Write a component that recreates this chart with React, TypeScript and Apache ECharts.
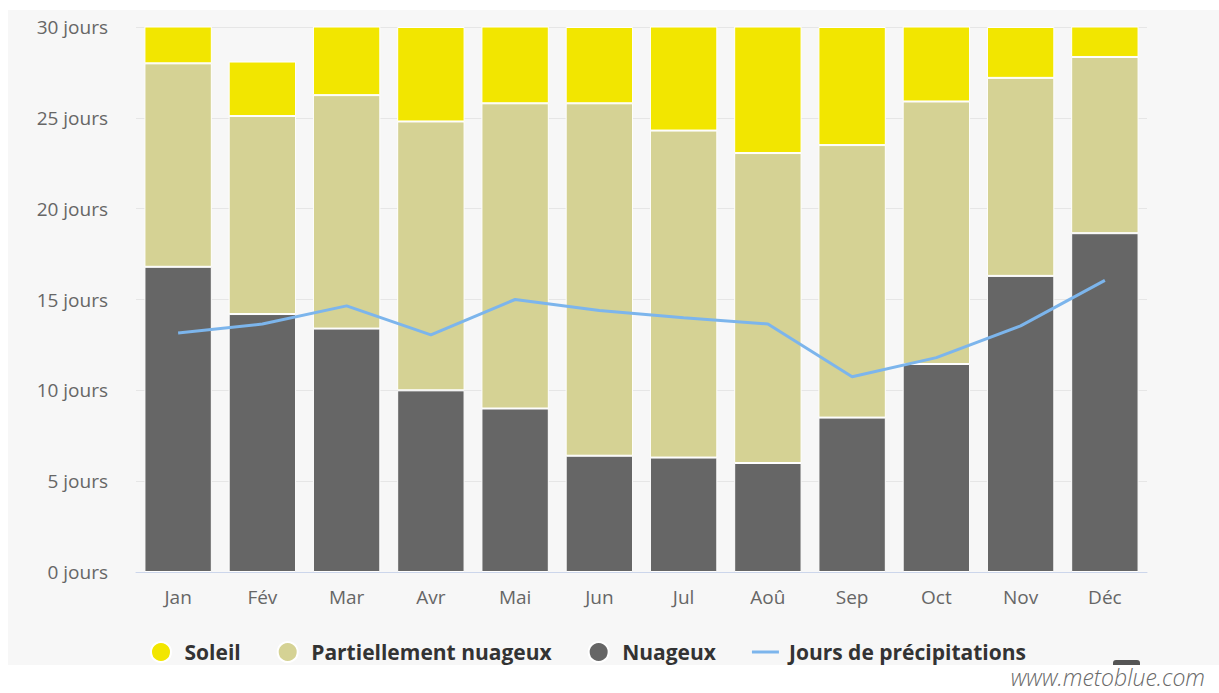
import React, { useEffect, useRef } from "react";
import * as echarts from "echarts";

const months = ["Jan", "Fév", "Mar", "Avr", "Mai", "Jun", "Jul", "Aoû", "Sep", "Oct", "Nov", "Déc"];
const nuageux = [16.8, 14.2, 13.4, 10.0, 9.0, 6.4, 6.3, 6.0, 8.5, 11.45, 16.3, 18.65];
const partiel = [11.2, 10.9, 12.85, 14.8, 16.8, 19.4, 18.0, 17.06, 15.0, 14.45, 10.9, 9.7];
const soleil = [3.0, 3.0, 4.75, 5.2, 5.2, 4.2, 6.7, 7.94, 6.5, 5.1, 2.8, 2.65];
const precip = [13.15, 13.65, 14.65, 13.05, 15.0, 14.4, 14.0, 13.65, 10.75, 11.8, 13.55, 16.05];
const yTicks = { min: 0, max: 30, step: 5, suffix: " jours" };

const FONT = "'Open Sans', 'Noto Sans', sans-serif";

export default function App() {
  const ref = useRef<HTMLDivElement>(null);
  useEffect(() => {
    if (!ref.current) return;
    const chart = echarts.init(ref.current, undefined, { renderer: "svg" });
    chart.setOption({
      animation: false,
      backgroundColor: "#ffffff",
      graphic: [
        {
          type: "rect",
          z: -100,
          silent: true,
          shape: { x: 8, y: 10, width: 1211, height: 655 },
          style: { fill: "#f7f7f7" },
        },
        {
          type: "rect",
          silent: true,
          shape: { x: 1113, y: 660, width: 27, height: 5, r: [3, 3, 0, 0] },
          style: { fill: "#555555" },
        },
        {
          type: "text",
          silent: true,
          right: 14,
          top: 665,
          style: {
            text: "www.metoblue.com",
            fill: "#6a6a6a",
            font: "italic 300 23px 'Open Sans', 'Noto Sans', sans-serif",
          },
        },
      ],
      grid: { left: 136, right: 72, top: 27, bottom: 121, containLabel: false },
      legend: {
        left: 145,
        top: 636,
        itemWidth: 27,
        itemHeight: 20,
        itemGap: 36,
        textStyle: {
          fontFamily: FONT,
          fontSize: 21,
          fontWeight: "bold",
          color: "#333333",
          padding: [0, 0, 0, 5],
        },
        data: [
          { name: "Soleil", icon: "circle" },
          { name: "Partiellement nuageux", icon: "circle" },
          { name: "Nuageux", icon: "circle" },
          { name: "Jours de précipitations", icon: "path://M0,0L27,0L27,3L0,3Z" },
        ],
      },
      xAxis: {
        type: "category",
        data: months,
        axisLine: { lineStyle: { color: "#ccd6eb", width: 1 } },
        axisTick: { show: false },
        axisLabel: { color: "#666666", fontFamily: FONT, fontSize: 19, margin: 15 },
      },
      yAxis: {
        type: "value",
        min: yTicks.min,
        max: yTicks.max,
        interval: yTicks.step,
        axisLine: { show: false },
        axisTick: { show: false },
        splitLine: { lineStyle: { color: "#e6e6e6", width: 1 } },
        axisLabel: {
          color: "#666666",
          fontFamily: FONT,
          fontSize: 19,
          margin: 28,
          formatter: (v: number) => `${v}${yTicks.suffix}`,
        },
      },
      series: [
        {
          name: "Nuageux",
          type: "bar",
          stack: "j",
          data: nuageux,
          barCategoryGap: "20%",
          itemStyle: { color: "#666666", borderColor: "#ffffff", borderWidth: 1 },
        },
        {
          name: "Partiellement nuageux",
          type: "bar",
          stack: "j",
          data: partiel,
          itemStyle: { color: "#d5d294", borderColor: "#ffffff", borderWidth: 1 },
        },
        {
          name: "Soleil",
          type: "bar",
          stack: "j",
          data: soleil,
          itemStyle: { color: "#f2e600", borderColor: "#ffffff", borderWidth: 1 },
        },
        {
          name: "Jours de précipitations",
          type: "line",
          data: precip,
          symbol: "none",
          z: 5,
          lineStyle: { color: "#7cb5ec", width: 3 },
          itemStyle: { color: "#7cb5ec" },
        },
      ],
    });
    return () => chart.dispose();
  }, []);
  return (
    <div
      ref={ref}
      style={{ position: "absolute", left: 0, top: 0, width: 1219, height: 693 }}
    />
  );
}
